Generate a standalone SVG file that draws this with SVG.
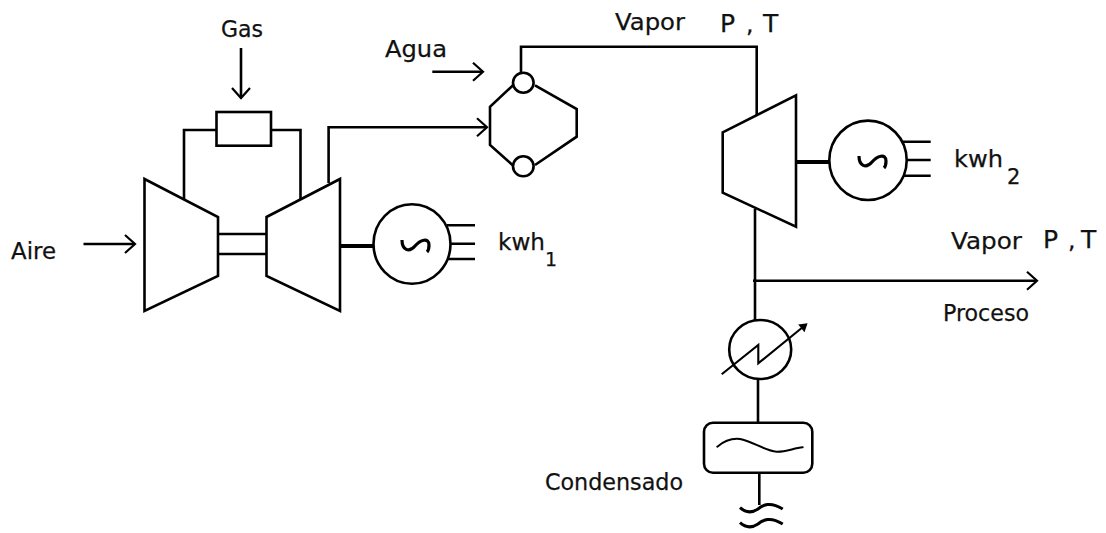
<svg xmlns="http://www.w3.org/2000/svg" width="1106" height="533" viewBox="0 0 1106 533">
<style>
.s{fill:none;stroke:#000;stroke-width:2.6;stroke-linejoin:miter}
.thick{fill:none;stroke:#000;stroke-width:4.2}
.sym{fill:none;stroke:#000;stroke-width:3.2}
.thin{fill:none;stroke:#000;stroke-width:2;stroke-linecap:round}
text{font-family:"DejaVu Sans",sans-serif;font-size:23.5px;fill:#111;stroke:#111;stroke-width:.25}
.a{marker-end:url(#open)}
</style>
<defs>
<marker id="open" markerUnits="userSpaceOnUse" markerWidth="24" markerHeight="24" viewBox="-12 -12 24 24" refX="0" refY="0" orient="auto" overflow="visible">
<path d="M-10,-9 L0,0 L-10,9" fill="none" stroke="#000" stroke-width="2.2"/>
</marker>
<marker id="solid" markerUnits="userSpaceOnUse" markerWidth="14" markerHeight="14" viewBox="-7 -7 14 14" refX="0" refY="0" orient="auto">
<path d="M-6,-5 L2,0 L-6,5 Z" fill="#000"/>
</marker>
</defs>
<rect width="1106" height="533" fill="#fff"/>
<g id="connectors">
<path class="s" d="M184,199V130H216.5"/>
<path class="s" d="M271,130H300.5V199"/>
<path class="s a" d="M328.6,183V127.3H487"/>
<path class="s a" d="M241,48V98"/>
<path class="s a" d="M83.5,244H135"/>
<path class="s a" d="M432.3,71.7H483"/>
<path class="s" d="M521,72.7V46.7H756.7V115"/>
<path class="s" d="M755,209V320"/>
<path class="s a" d="M753,280.7H1037"/>
<path class="s" d="M218,234H266.5M218,254H266.5"/>
<path class="thick" d="M340,246H373"/>
<path class="s" d="M447,225.3H475M450,243.7H475M447,259H475"/>
<path class="thick" d="M796,162H829"/>
<path class="s" d="M903,141.7H930.7M906,160H930.7M903,175.7H930.7"/>
<path class="s" d="M758,379V422.7"/>
<path class="s" d="M759.3,472.7V505"/>
</g>
<g id="compressor"><path class="s" d="M144.5,179L218,217V276L144.5,311Z"/></g>
<g id="turbine-1"><path class="s" d="M266.5,217L340,179V311L266.5,276Z"/></g>
<g id="combustor"><rect class="s" x="216.5" y="112" width="54.5" height="33.7"/></g>
<g id="generator-1">
<ellipse class="s" cx="412" cy="244" rx="38.5" ry="39.7"/>
<path class="sym" d="M402,240C402,250 409,253 415,246C420,240 429,237 429,245C429,249 428,251 427,252"/>
</g>
<g id="boiler">
<path class="s" d="M513.3,85L490,106.7V145L513.3,165.7M535,85.3L576.7,109V136.7L535,165"/>
<ellipse class="s" cx="523.3" cy="82.7" rx="10.3" ry="10"/>
<ellipse class="s" cx="523.3" cy="166.3" rx="10.3" ry="10"/>
</g>
<g id="turbine-2"><path class="s" d="M722.7,132.3L796,95.3V226.7L722.7,192.7Z"/></g>
<g id="generator-2">
<ellipse class="s" cx="868" cy="160.3" rx="38.7" ry="39.7"/>
<path class="sym" d="M859,156C859,166 866,169 872,162C877,156 886,153 886,161C886,165 885,167 884,168"/>
</g>
<g id="condenser">
<ellipse class="s" cx="760.2" cy="349.5" rx="31" ry="29.5"/>
<path class="s" style="stroke-width:2.1;marker-end:url(#solid)" d="M721.7,374.3L758.3,345V363.3L806,324.5"/>
</g>
<g id="tank">
<rect class="s" x="704" y="422.7" width="108.3" height="50" rx="9" ry="9"/>
<path class="thin" d="M717.3,446.7C724,441 731,438 740,439C752,441 763,450 776.7,451.7C786,452 794,448 802.7,447.3"/>
</g>
<g id="drain">
<path class="s" style="stroke-width:3" d="M740,507.7C746,513 752,513 758,509C763,505 770,501 782.7,509"/>
<path class="s" style="stroke-width:3" d="M740,522.7C746,528 752,528 758,524C763,520 770,516 782.7,524"/>
</g>
<g id="labels">
<text x="221" y="37" textLength="42" lengthAdjust="spacingAndGlyphs">Gas</text>
<text x="385" y="56.7" textLength="62" lengthAdjust="spacingAndGlyphs">Agua</text>
<text x="11" y="259" textLength="45" lengthAdjust="spacingAndGlyphs">Aire</text>
<text x="615" y="30" textLength="70" lengthAdjust="spacingAndGlyphs">Vapor</text>
<text x="720" y="31.5" style="font-size:25px">P</text>
<text x="746" y="31.5">,</text>
<text x="763" y="31.5" style="font-size:25px">T</text>
<text x="498" y="250" textLength="47" lengthAdjust="spacingAndGlyphs">kwh</text>
<text x="545" y="265.7" style="font-size:19px">1</text>
<text x="954" y="167.3" textLength="49" lengthAdjust="spacingAndGlyphs">kwh</text>
<text x="1007" y="184" style="font-size:21px">2</text>
<text x="951" y="249.3" textLength="71" lengthAdjust="spacingAndGlyphs">Vapor</text>
<text x="1043" y="247.7" style="font-size:25px">P</text>
<text x="1068" y="247.7">,</text>
<text x="1081" y="247.7" style="font-size:25px">T</text>
<text x="943" y="321" textLength="86" lengthAdjust="spacingAndGlyphs">Proceso</text>
<text x="545" y="490" textLength="138" lengthAdjust="spacingAndGlyphs">Condensado</text>
</g>
</svg>
